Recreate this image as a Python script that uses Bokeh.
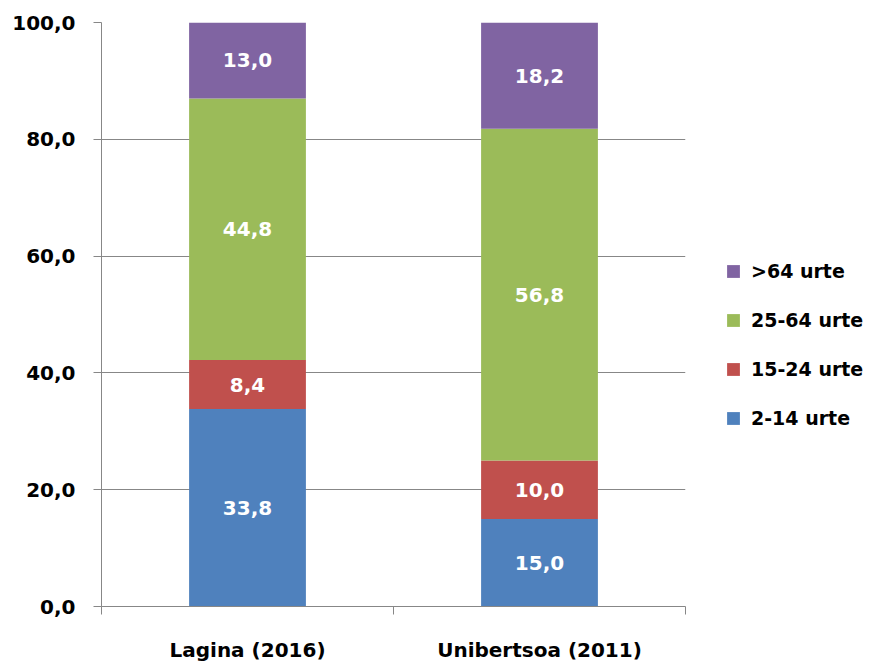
from bokeh.plotting import figure
from bokeh.layouts import row
from bokeh.models import Range1d, FixedTicker, LinearAxis, Legend, LegendItem, ColumnDataSource
from bokeh.core.properties import value
from bokeh.embed import file_html
from bokeh.resources import INLINE

categories = ["Lagina (2016)", "Unibertsoa (2011)"]
series_names = ["2-14 urte", "15-24 urte", "25-64 urte", ">64 urte"]
v_2_14 = [33.8, 15.0]
v_15_24 = [8.4, 10.0]
v_25_64 = [44.8, 56.8]
v_over_64 = [13.0, 18.2]
y_ticks = [0, 20, 40, 60, 80, 100]
y_tick_labels = ["0,0", "20,0", "40,0", "60,0", "80,0", "100,0"]

colors = ["#4F81BD", "#C0504D", "#9BBB59", "#8064A2"]
FONT = "DejaVu Sans"
GRID = "#878787"
H = 664

series_values = [v_2_14, v_15_24, v_25_64, v_over_64]
keys = ["s0", "s1", "s2", "s3"]
x_pos = [i + 0.5 for i in range(len(categories))]

data = {"x": x_pos}
for k, vals in zip(keys, series_values):
    data[k] = vals
src = ColumnDataSource(data)

p = figure(width=690, height=H, output_backend="svg", toolbar_location=None,
           x_range=Range1d(0, len(categories)), y_range=Range1d(0, 100),
           min_border_left=101, min_border_right=5, min_border_top=22, min_border_bottom=40)
p.outline_line_color = None
p.background_fill_color = "white"
p.border_fill_color = "white"

p.vbar_stack(keys, x="x", width=0.4, color=colors, line_color=None, source=src)

# data labels
bottoms = [0.0] * len(categories)
lx, ly, lt = [], [], []
for vals in series_values:
    for i, v in enumerate(vals):
        lx.append(x_pos[i])
        ly.append(bottoms[i] + v / 2)
        lt.append(f"{v:.1f}".replace(".", ","))
        bottoms[i] += v
p.text(x=lx, y=ly, text=lt, text_align="center", text_baseline="middle",
       text_color="white", text_font=value(FONT), text_font_style="bold",
       text_font_size="20px")

# grid
p.xgrid.visible = False
p.ygrid.ticker = FixedTicker(ticks=y_ticks)
p.ygrid.grid_line_color = GRID
p.ygrid.grid_line_width = 1

# y axis
ya = p.yaxis[0]
ya.ticker = FixedTicker(ticks=y_ticks)
ya.major_label_overrides = {t: l for t, l in zip(y_ticks, y_tick_labels)}
ya.axis_line_color = GRID
ya.major_tick_line_color = GRID
ya.major_tick_out = 8
ya.major_tick_in = 0
ya.minor_tick_line_color = None
ya.major_label_standoff = 18
ya.major_label_text_font = FONT
ya.major_label_text_font_style = "bold"
ya.major_label_text_font_size = "20px"
ya.major_label_text_color = "black"

# x axis: boundary ticks
xa = p.xaxis[0]
xa.ticker = FixedTicker(ticks=list(range(len(categories) + 1)))
xa.axis_line_color = GRID
xa.major_tick_line_color = GRID
xa.major_tick_out = 8
xa.major_tick_in = 0
xa.minor_tick_line_color = None
xa.major_label_text_font_size = "1px"
xa.major_label_text_alpha = 0
xa.major_label_standoff = 0

# category labels
xa2 = LinearAxis(ticker=FixedTicker(ticks=x_pos),
                 major_label_overrides={x: c for x, c in zip(x_pos, categories)})
xa2.axis_line_color = None
xa2.major_tick_line_color = None
xa2.minor_tick_line_color = None
xa2.major_tick_out = 0
xa2.major_tick_in = 0
xa2.major_label_standoff = 23
xa2.major_label_text_font = FONT
xa2.major_label_text_font_style = "bold"
xa2.major_label_text_font_size = "20px"
xa2.major_label_text_color = "black"
p.add_layout(xa2, "below")

# legend panel
p2 = figure(width=176, height=H, output_backend="svg", toolbar_location=None,
            x_axis_location=None, y_axis_location=None,
            x_range=Range1d(0, 1), y_range=Range1d(0, 1),
            min_border_left=0, min_border_right=0, min_border_top=0, min_border_bottom=0)
p2.outline_line_color = None
p2.xgrid.visible = False
p2.ygrid.visible = False
leg_renderers = p2.vbar_stack(keys, x="x", width=0.4, color=colors, line_color=None, source=src)
for r in leg_renderers:
    r.visible = False

items = [LegendItem(label=n, renderers=[r]) for n, r in zip(series_names, leg_renderers)][::-1]
legend = Legend(items=items, location=(35, 177), orientation="vertical",
                padding=0, margin=0, spacing=27, glyph_width=16, glyph_height=16,
                label_standoff=10, label_text_font=FONT, label_text_font_style="bold",
                label_text_font_size="19px", label_text_color="black",
                border_line_color=None, background_fill_alpha=0, click_policy="none")
p2.add_layout(legend, "center")

layout = row(p, p2, spacing=0)
open("out.html", "w").write(file_html(layout, INLINE))
